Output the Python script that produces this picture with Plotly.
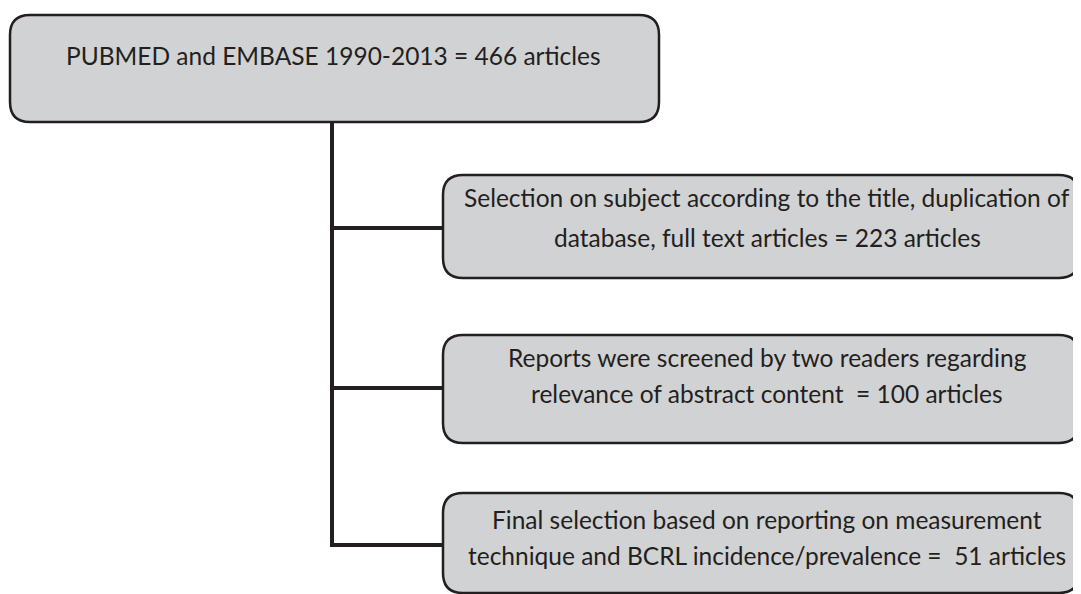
import plotly.graph_objects as go

# ---- content ----
box_labels = [
    ["PUBMED and EMBASE 1990-2013 = 466 articles"],
    ["Selection on subject according to the title, duplication of",
     "database, full text articles = 223 articles"],
    ["Reports were screened by two readers regarding",
     "relevance of abstract content  = 100 articles"],
    ["Final selection based on reporting on measurement",
     "technique and BCRL incidence/prevalence =  51 articles"],
]
article_counts = [466, 223, 100, 51]

# ---- layout (page pixels) ----
W, H = 1081, 594
OFF = 8  # default body margin of the html page
boxes = [  # x0, y0, x1, y1
    (10, 15, 659, 122),
    (443, 175, 1079, 278),
    (443, 335, 1079, 443),
    (443, 493, 1079, 593),
]
text_x = [333, 767, 767, 767]
line_y = [[55], [197, 237], [357, 393], [519, 555]]
trunk_x = 332
radius = 20
fill = "#d1d2d4"
edge = "#231f20"

def rrect(x0, y0, x1, y1, r):
    return (f"M {x0+r},{y0} L {x1-r},{y0} Q {x1},{y0} {x1},{y0+r} "
            f"L {x1},{y1-r} Q {x1},{y1} {x1-r},{y1} L {x0+r},{y1} "
            f"Q {x0},{y1} {x0},{y1-r} L {x0},{y0+r} Q {x0},{y0} {x0+r},{y0} Z")

shapes = []
conn_y = [228, 388, 545]
shapes.append(dict(type="line", x0=trunk_x, x1=trunk_x, y0=boxes[0][3], y1=conn_y[-1] + 2,
                   line=dict(color=edge, width=4), layer="below"))
for cy, b in zip(conn_y, boxes[1:]):
    shapes.append(dict(type="line", x0=trunk_x - 2, x1=b[0], y0=cy, y1=cy,
                       line=dict(color=edge, width=4), layer="below"))
for b in boxes:
    shapes.append(dict(type="path", path=rrect(*b, radius), fillcolor=fill,
                       line=dict(color=edge, width=2.5)))

annotations = []
for lines, x, ys in zip(box_labels, text_x, line_y):
    for txt, y in zip(lines, ys):
        annotations.append(dict(x=x, y=y, text=txt, showarrow=False, xanchor="center",
                                yanchor="middle",
                                font=dict(family="Lato", size=24.5, color="#231f20")))

fig = go.Figure()
fig.update_layout(
    width=W - OFF, height=H - OFF, margin=dict(l=0, r=0, t=0, b=0),
    paper_bgcolor="white", plot_bgcolor="white",
    xaxis=dict(range=[OFF, W], visible=False, fixedrange=True),
    yaxis=dict(range=[H, OFF], visible=False, fixedrange=True),
    shapes=shapes, annotations=annotations, showlegend=False,
)
fig.write_html("out.html")
